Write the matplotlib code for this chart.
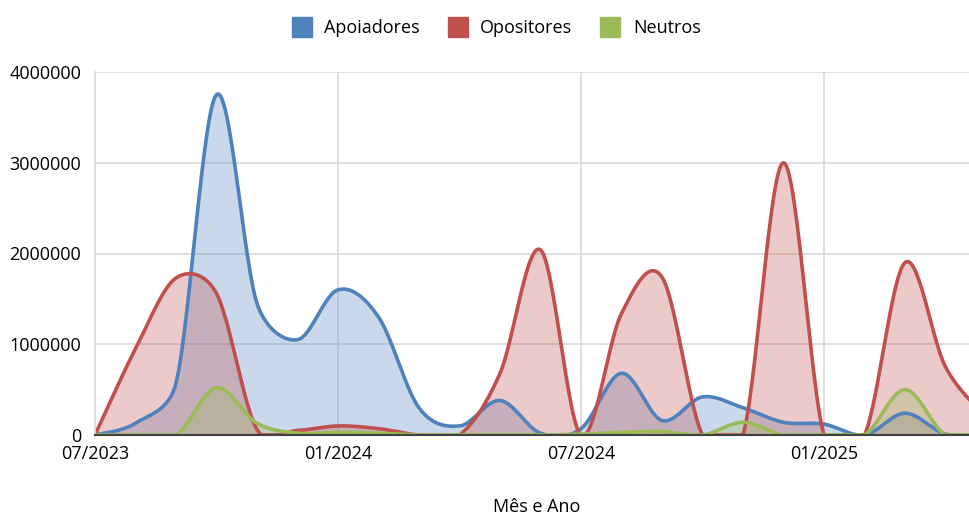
import numpy as np
import matplotlib
matplotlib.use("Agg")
import matplotlib.pyplot as plt
from matplotlib.lines import Line2D

plt.rcParams["font.family"] = ["Open Sans", "DejaVu Sans"]

# meses a partir de 07/2023 (0 = 07/2023 ... 22 = 05/2025)
meses = np.arange(23)
apoiadores = [0, 130000, 570000, 3750000, 1450000, 1050000, 1600000, 1300000, 300000, 100000,
              380000, 20000, 70000, 680000, 160000, 420000, 300000, 140000, 120000, 0,
              240000, 10000, 0]
opositores = [0, 950000, 1730000, 1560000, 60000, 50000, 100000, 70000, 0, 0,
              680000, 2040000, 0, 1340000, 1740000, 0, 0, 3000000, 0, 0,
              1900000, 750000, 200000]
neutros = [0, 0, 0, 520000, 130000, 20000, 30000, 20000, 0, 0,
           0, 0, 10000, 30000, 40000, 0, 140000, 0, 0, 0,
           500000, 0, 0]
tick_pos = [0, 6, 12, 18]
tick_lbl = ["07/2023", "01/2024", "07/2024", "01/2025"]

COL = {"Apoiadores": "#4F81BD", "Opositores": "#C0504D", "Neutros": "#9BBB59"}

# escala aproximada em pixels (para a suavização)
PX_X = 40.5
PX_Y = 90.75e-6


def suave(x, y, n=30):
    # linha suavizada estilo Excel: Bézier com alças (P[i+1]-P[i-1])/6,
    # limitadas a metade do segmento
    P = np.column_stack([np.asarray(x, float) * PX_X, np.asarray(y, float) * PX_Y])
    N = len(P)
    cp_prev = P.copy(); cp_next = P.copy()
    for i in range(N):
        a = P[max(i - 1, 0)]; b = P[i]; c = P[min(i + 1, N - 1)]
        tg = (c - a) / 6
        L = np.hypot(*tg)
        if L == 0:
            continue
        lin = min(L, 0.5 * np.hypot(*(b - a)))
        lout = min(L, 0.5 * np.hypot(*(c - b)))
        cp_prev[i] = b - tg / L * lin
        cp_next[i] = b + tg / L * lout
    u = np.linspace(0, 1, n, endpoint=False)[:, None]
    pts = []
    for i in range(N - 1):
        b0, b1, b2, b3 = P[i], cp_next[i], cp_prev[i + 1], P[i + 1]
        pts.append((1 - u)**3 * b0 + 3 * (1 - u)**2 * u * b1 + 3 * (1 - u) * u**2 * b2 + u**3 * b3)
    pts.append(P[-1:])
    pts = np.vstack(pts)
    return pts[:, 0] / PX_X, pts[:, 1] / PX_Y


fig = plt.figure(figsize=(9.69, 5.17), dpi=100)
ax = fig.add_axes([95 / 969, 1 - 435 / 517, 1 - 95 / 969, (435 - 72) / 517])

series = [("Apoiadores", apoiadores), ("Opositores", opositores), ("Neutros", neutros)]
curvas = []
for nome, vals in series:
    xs, ys = suave(meses, vals)
    ys = np.clip(ys, 0, None)
    curvas.append((nome, xs, ys))
    ax.fill(np.r_[xs, xs[-1], xs[0]], np.r_[ys, 0, 0], color=COL[nome], alpha=0.3, lw=0)
for nome, xs, ys in curvas:
    ax.plot(xs, ys, color=COL[nome], lw=2.6, solid_capstyle="round")

ax.set_xlim(0, 21.58)
ax.set_ylim(0, 4000000)
ax.set_yticks([0, 1000000, 2000000, 3000000, 4000000])
ax.set_yticklabels(["0", "1000000", "2000000", "3000000", "4000000"])
ax.set_xticks(tick_pos)
ax.set_xticklabels(tick_lbl)
ax.tick_params(length=0, labelsize=13, colors="#000000")
ax.tick_params(axis="y", pad=10)
ax.tick_params(axis="x", pad=7)
ax.grid(True, color="#d9d9d9", lw=1.2)
ax.set_axisbelow(True)
for s in ["top", "right"]:
    ax.spines[s].set_visible(False)
ax.spines["left"].set_color("#d9d9d9")
ax.spines["left"].set_linewidth(1.2)
ax.spines["bottom"].set_color("#404040")
ax.spines["bottom"].set_linewidth(1.5)
ax.spines["bottom"].set_zorder(5)

handles = [Line2D([], [], marker="s", ls="none", ms=15, color=COL[n], label=n) for n, _ in series]
fig.legend(handles=handles, loc="center", bbox_to_anchor=(492 / 969, 1 - 28 / 517), ncol=3,
           frameon=False, fontsize=13, handletextpad=0.25, columnspacing=1.1)

fig.text(537 / 969, 1 - 498 / 517, "Mês e Ano", ha="center", va="top", fontsize=13)

fig.savefig("out.png", dpi=100)
